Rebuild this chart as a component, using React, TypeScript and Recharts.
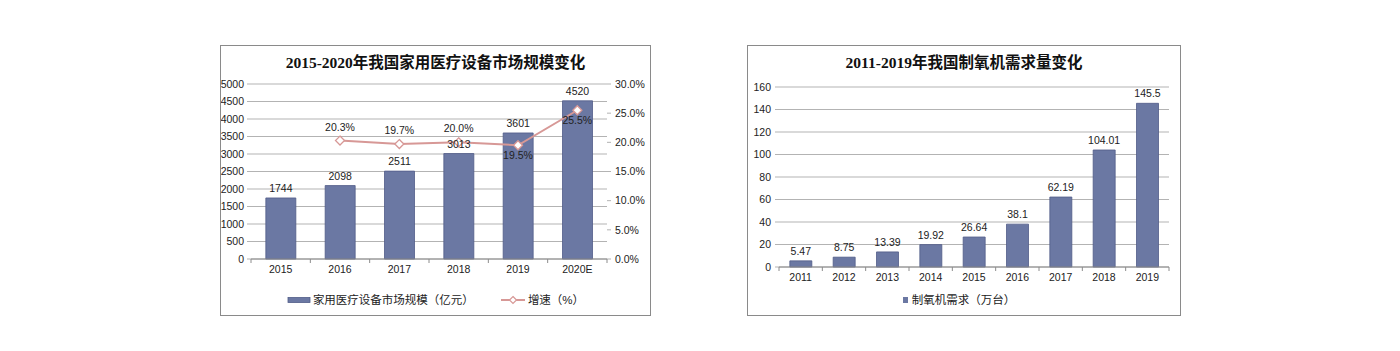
import React from 'react';
import { ComposedChart, BarChart, Bar, Line, XAxis, YAxis, CartesianGrid, Legend, LabelList } from 'recharts';

const years1 = ['2015', '2016', '2017', '2018', '2019', '2020E'];
const marketSize = [1744, 2098, 2511, 3013, 3601, 4520];
const growth: (number | null)[] = [null, 20.3, 19.7, 20.0, 19.5, 25.5];
const leftTicks1 = [0, 500, 1000, 1500, 2000, 2500, 3000, 3500, 4000, 4500, 5000];
const rightTicks1 = [0, 5, 10, 15, 20, 25, 30];

const years2 = ['2011', '2012', '2013', '2014', '2015', '2016', '2017', '2018', '2019'];
const oxygenDemand = [5.47, 8.75, 13.39, 19.92, 26.64, 38.1, 62.19, 104.01, 145.5];
const ticks2 = [0, 20, 40, 60, 80, 100, 120, 140, 160];

const title1 = '2015-2020年我国家用医疗设备市场规模变化';
const title2 = '2011-2019年我国制氧机需求量变化';
const seriesName1 = '家用医疗设备市场规模（亿元）';
const seriesName2 = '增速（%）';
const seriesName3 = '制氧机需求（万台）';

const data1 = years1.map((y, i) => ({ year: y, size: marketSize[i], growth: growth[i] }));
const data2 = years2.map((y, i) => ({ year: y, demand: oxygenDemand[i] }));

const BAR = '#6b78a3';
const BAR_EDGE = '#515c88';
const PINK = '#d79896';
const GRID = '#b3b3b3';
const TICK_FONT = "'Liberation Sans', Arial, sans-serif";
const CJK_FONT = "'Liberation Sans', 'Noto Sans CJK SC', sans-serif";
const FS = 10.5;

const TICK_SIZE = 4;
const TICK_MARGIN = 3;

const CatTick = (props: any) => {
  const { x, y, payload, index, visibleTicksCount } = props;
  const off = payload && payload.offset ? payload.offset : 0;
  const axisY = y - TICK_SIZE - TICK_MARGIN;
  const last = index === visibleTicksCount - 1;
  return (
    <g>
      <line x1={x - off} x2={x - off} y1={axisY} y2={axisY + 4} stroke="#8c8c8c" />
      {last && <line x1={x + off} x2={x + off} y1={axisY} y2={axisY + 4} stroke="#8c8c8c" />}
      <text x={x} y={y} dy="0.71em" textAnchor="middle" fontSize={FS} fontFamily={TICK_FONT} fill="#222">
        {payload.value}
      </text>
    </g>
  );
};

const GrowthLabel = (props: any) => {
  const { x, y, value, index } = props;
  if (value == null) return null;
  const belowFinal = index === 4 || index === 5;
  const ty = belowFinal ? y + 14 : y - 10;
  return (
    <text x={x} y={ty} textAnchor="middle" fontSize={FS} fontFamily={TICK_FONT} fill="#222">
      {`${Number(value).toFixed(1)}%`}
    </text>
  );
};

const Diamond = (props: any) => {
  const { cx, cy, value } = props;
  if (value == null || cx == null || cy == null) return <g />;
  const r = 4.5;
  return (
    <path
      d={`M${cx},${cy - r}L${cx + r},${cy}L${cx},${cy + r}L${cx - r},${cy}Z`}
      fill="#fff"
      stroke={PINK}
      strokeWidth={1.3}
    />
  );
};

const Legend1 = () => (
  <div style={{ display: 'flex', justifyContent: 'center', alignItems: 'center', fontFamily: CJK_FONT, fontSize: 11.5, color: '#222', lineHeight: '16px' }}>
    <svg width={24} height={16} style={{ marginRight: 2 }}>
      <rect x={1} y={5.5} width={22} height={5} fill={BAR} stroke={BAR_EDGE} strokeWidth={0.8} />
    </svg>
    <span>{seriesName1}</span>
    <svg width={26} height={16} style={{ marginLeft: 26, marginRight: 2 }}>
      <line x1={1} x2={25} y1={8} y2={8} stroke={PINK} strokeWidth={2} />
      <path d="M13,4.5L16.5,8L13,11.5L9.5,8Z" fill="#fff" stroke={PINK} strokeWidth={1.2} />
    </svg>
    <span>{seriesName2}</span>
  </div>
);

const Legend2 = () => (
  <div style={{ display: 'flex', justifyContent: 'center', alignItems: 'center', fontFamily: CJK_FONT, fontSize: 11.5, color: '#222', lineHeight: '16px' }}>
    <svg width={8} height={16} style={{ marginRight: 2 }}>
      <rect x={1} y={5} width={5} height={6} fill={BAR} />
    </svg>
    <span>{seriesName3}</span>
  </div>
);

const titleStyle: React.CSSProperties = {
  position: 'absolute',
  left: 0,
  right: 0,
  top: 7,
  textAlign: 'center',
  fontFamily: "'Liberation Serif', 'Noto Sans CJK SC', serif",
  fontWeight: 'bold',
  fontSize: 15.5,
  color: '#111',
  lineHeight: '20px',
};

const boxStyle = (left: number, top: number, w: number, h: number): React.CSSProperties => ({
  position: 'absolute',
  left,
  top,
  width: w,
  height: h,
  border: '1px solid #8a8a8a',
  boxSizing: 'border-box',
  background: '#fff',
});

const tickStyle = { fontSize: FS, fontFamily: TICK_FONT, fill: '#222' };

export default function App() {
  return (
    <div style={{ position: 'absolute', left: 0, top: 0, width: 1400, height: 351, background: '#fff' }}>
      <div style={boxStyle(220, 45, 431, 271)}>
        <div style={titleStyle}>{title1}</div>
        <ComposedChart width={429} height={269} data={data1} margin={{ top: 38, right: 0, left: 0, bottom: 7 }} barCategoryGap="25%">
          <CartesianGrid vertical={false} stroke={GRID} yAxisId="left" />
          <XAxis
            dataKey="year"
            height={33}
            tick={<CatTick />}
            tickLine={false}
            tickSize={TICK_SIZE}
            tickMargin={TICK_MARGIN}
            axisLine={{ stroke: '#8c8c8c' }}
            interval={0}
          />
          <YAxis
            yAxisId="left"
            width={30}
            domain={[0, 5000]}
            ticks={leftTicks1}
            interval={0}
            axisLine={false}
            tickLine={{ stroke: GRID }}
            tickSize={4}
            tickMargin={3}
            tick={tickStyle}
          />
          <YAxis
            yAxisId="right"
            orientation="right"
            width={43}
            domain={[0, 30]}
            ticks={rightTicks1}
            interval={0}
            axisLine={false}
            tickLine={{ stroke: GRID }}
            tickSize={4}
            tickMargin={4}
            tickFormatter={(v: number) => `${v.toFixed(1)}%`}
            tick={tickStyle}
          />
          <Legend verticalAlign="bottom" height={16} content={<Legend1 />} />
          <Bar yAxisId="left" dataKey="size" name={seriesName1} fill={BAR} stroke={BAR_EDGE} strokeWidth={0.8} isAnimationActive={false}>
            <LabelList dataKey="size" position="top" offset={6} style={tickStyle} />
          </Bar>
          <Line
            yAxisId="right"
            dataKey="growth"
            name={seriesName2}
            stroke={PINK}
            strokeWidth={2}
            dot={<Diamond />}
            activeDot={false}
            connectNulls={false}
            isAnimationActive={false}
          >
            <LabelList dataKey="growth" content={<GrowthLabel />} />
          </Line>
        </ComposedChart>
      </div>

      <div style={boxStyle(747, 45, 434, 271)}>
        <div style={titleStyle}>{title2}</div>
        <BarChart width={432} height={269} data={data2} margin={{ top: 41, right: 11, left: 0, bottom: 7 }} barCategoryGap="25%">
          <CartesianGrid vertical={false} stroke={GRID} />
          <XAxis
            dataKey="year"
            height={25}
            tick={<CatTick />}
            tickLine={false}
            tickSize={TICK_SIZE}
            tickMargin={TICK_MARGIN}
            axisLine={{ stroke: '#8c8c8c' }}
            interval={0}
          />
          <YAxis
            width={31}
            domain={[0, 160]}
            ticks={ticks2}
            interval={0}
            axisLine={false}
            tickLine={{ stroke: GRID }}
            tickSize={4}
            tickMargin={4}
            tick={tickStyle}
          />
          <Legend verticalAlign="bottom" height={16} content={<Legend2 />} />
          <Bar dataKey="demand" name={seriesName3} fill={BAR} stroke={BAR_EDGE} strokeWidth={0.8} isAnimationActive={false}>
            <LabelList dataKey="demand" position="top" offset={6} style={tickStyle} />
          </Bar>
        </BarChart>
      </div>
    </div>
  );
}
